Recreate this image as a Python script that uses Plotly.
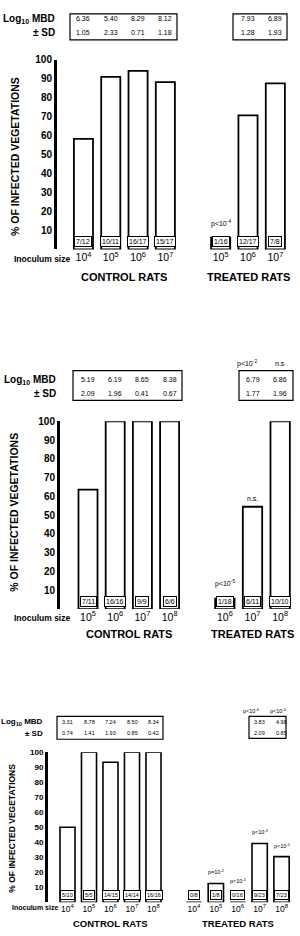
import plotly.graph_objects as go

# ---------------- DATA ----------------
# Panel 1
p1_ctrl_inoc = ["10<sup>4</sup>", "10<sup>5</sup>", "10<sup>6</sup>", "10<sup>7</sup>"]
p1_ctrl_pct = [58.3, 90.9, 94.1, 88.2]
p1_ctrl_frac = ["7/12", "10/11", "16/17", "15/17"]
p1_ctrl_mbd = ["6.36", "5.40", "8.29", "8.12"]
p1_ctrl_sd = ["1.05", "2.33", "0.71", "1.18"]
p1_trt_inoc = ["10<sup>5</sup>", "10<sup>6</sup>", "10<sup>7</sup>"]
p1_trt_pct = [6.25, 70.6, 87.5]
p1_trt_frac = ["1/16", "12/17", "7/8"]
p1_trt_mbd = ["", "7.93", "6.89"]
p1_trt_sd = ["", "1.28", "1.93"]
p1_trt_pbar = ["p<10<sup>-4</sup>", "", ""]
p1_trt_ptab = ["", "", ""]

# Panel 2
p2_ctrl_inoc = ["10<sup>5</sup>", "10<sup>6</sup>", "10<sup>7</sup>", "10<sup>8</sup>"]
p2_ctrl_pct = [63.6, 100, 100, 100]
p2_ctrl_frac = ["7/11", "16/16", "9/9", "6/6"]
p2_ctrl_mbd = ["5.19", "6.19", "8.65", "8.38"]
p2_ctrl_sd = ["2.09", "1.96", "0.41", "0.67"]
p2_trt_inoc = ["10<sup>6</sup>", "10<sup>7</sup>", "10<sup>8</sup>"]
p2_trt_pct = [5.6, 54.5, 100]
p2_trt_frac = ["1/18", "6/11", "10/10"]
p2_trt_mbd = ["", "6.79", "6.86"]
p2_trt_sd = ["", "1.77", "1.96"]
p2_trt_pbar = ["p<10<sup>-5</sup>", "n.s.", ""]
p2_trt_ptab = ["", "p<10<sup>-2</sup>", "n.s"]

# Panel 3
p3_ctrl_inoc = ["10<sup>4</sup>", "10<sup>5</sup>", "10<sup>6</sup>", "10<sup>7</sup>", "10<sup>8</sup>"]
p3_ctrl_pct = [50, 100, 93.3, 100, 100]
p3_ctrl_frac = ["5/10", "5/5", "14/15", "14/14", "16/16"]
p3_ctrl_mbd = ["3.31", "8.78", "7.24", "8.50", "8.34"]
p3_ctrl_sd = ["0.74", "1.41", "1.93", "0.85", "0.42"]
p3_trt_inoc = ["10<sup>4</sup>", "10<sup>5</sup>", "10<sup>6</sup>", "10<sup>7</sup>", "10<sup>8</sup>"]
p3_trt_pct = [0, 12.5, 0, 39.1, 30.4]
p3_trt_frac = ["0/8", "1/8", "0/16", "9/23", "7/23"]
p3_trt_mbd = ["", "", "", "3.83", "4.98"]
p3_trt_sd = ["", "", "", "2.09", "0.85"]
p3_trt_pbar = ["", "p=10<sup>-2</sup>", "p<10<sup>-5</sup>", "p<10<sup>-3</sup>", "p<10<sup>-5</sup>"]
p3_trt_ptab = ["", "", "", "p<10<sup>-6</sup>", "p<10<sup>-4</sup>"]

y_ticks = [10, 20, 30, 40, 50, 60, 70, 80, 90, 100]

# ---------------- LAYOUT HELPERS ----------------
W, H = 300, 936
FONT = "Liberation Sans"


def px(x):
    return x / W


def py(y):
    return 1 - y / H


fig = go.Figure()
annotations = []
shapes = []

panels = [
    dict(ctrl=(p1_ctrl_inoc, p1_ctrl_pct, p1_ctrl_frac, p1_ctrl_mbd, p1_ctrl_sd),
         trt=(p1_trt_inoc, p1_trt_pct, p1_trt_frac, p1_trt_mbd, p1_trt_sd, p1_trt_pbar, p1_trt_ptab),
         ydom=(245, 54), xc=(69.8, 179), xt=(207, 289), yax=55,
         box_c=(70, 177, 8, 34), box_t=(233, 287, 8, 34), row1=13, row2=27, ptab=None,
         logx=57, inoc=(12, 255, 8.5), rats=273, title=(15, 152, 10.5),
         tick=10, inoc_font=10.5, val_font=7, frac_font=7, lw=1.8,
         pshift=[8, 0, 0], head_font=10, rats_font=11, p_font=7, ptab_shift=[0, 0, 0]),
    dict(ctrl=(p2_ctrl_inoc, p2_ctrl_pct, p2_ctrl_frac, p2_ctrl_mbd, p2_ctrl_sd),
         trt=(p2_trt_inoc, p2_trt_pct, p2_trt_frac, p2_trt_mbd, p2_trt_sd, p2_trt_pbar, p2_trt_ptab),
         ydom=(607, 418), xc=(74.4, 183.2), xt=(211, 294), yax=58,
         box_c=(73, 182, 367, 397), box_t=(239, 293, 367, 397), row1=376, row2=390, ptab=360,
         logx=58, inoc=(12, 616, 8.5), rats=632, title=(14, 510, 10.5),
         tick=10, inoc_font=10.5, val_font=7, frac_font=7, lw=1.8,
         pshift=[9, 3, 0], head_font=10, rats_font=11, p_font=7, ptab_shift=[0, -6, 0]),
    dict(ctrl=(p3_ctrl_inoc, p3_ctrl_pct, p3_ctrl_frac, p3_ctrl_mbd, p3_ctrl_sd),
         trt=(p3_trt_inoc, p3_trt_pct, p3_trt_frac, p3_trt_mbd, p3_trt_sd, p3_trt_pbar, p3_trt_ptab),
         ydom=(902, 751), xc=(56.75, 164.25), xt=(183, 292.5), yax=46,
         box_c=(57, 163, 715, 738), box_t=(249, 286, 715, 737), row1=721, row2=732, ptab=710,
         logx=45, inoc=(10, 907, 7), rats=923, title=(12, 828, 8.5),
         tick=8, inoc_font=8.5, val_font=5.5, frac_font=5.5, lw=1.6,
         pshift=[0, 6, 16, 7, 6], head_font=8, rats_font=9.5, p_font=5.5, ptab_shift=[0, 0, 0, -9, -3]),
]

layout_axes = {}
for i, P in enumerate(panels):
    yname = "y" if i == 0 else f"y{i + 1}"
    yid = "yaxis" if i == 0 else f"yaxis{i + 1}"
    xc_n = 2 * i + 1
    xt_n = 2 * i + 2
    xc_name = "x" if xc_n == 1 else f"x{xc_n}"
    xt_name = f"x{xt_n}"
    xc_id = "xaxis" if xc_n == 1 else f"xaxis{xc_n}"
    xt_id = f"xaxis{xt_n}"

    c_inoc, c_pct, c_frac, c_mbd, c_sd = P["ctrl"]
    t_inoc, t_pct, t_frac, t_mbd, t_sd, t_pbar, t_ptab = P["trt"]
    c_cats = [f"c{k}" for k in range(len(c_inoc))]
    t_cats = [f"t{k}" for k in range(len(t_inoc))]

    bar_style = dict(marker=dict(color="white", line=dict(color="black", width=P["lw"])),
                     showlegend=False, hoverinfo="skip")
    fig.add_trace(go.Bar(x=c_cats, y=c_pct, xaxis=xc_name, yaxis=yname, **bar_style))
    fig.add_trace(go.Bar(x=t_cats, y=t_pct, xaxis=xt_name, yaxis=yname, **bar_style))

    y0, y1 = P["ydom"]
    layout_axes[yid] = dict(domain=[py(y0), py(y1)], range=[0, 100], anchor="free",
                            position=px(P["yax"]), showline=True, linecolor="black",
                            linewidth=3, tickvals=y_ticks, ticks="", showgrid=False,
                            zeroline=False, fixedrange=True,
                            tickfont=dict(family=FONT, size=P["tick"], color="black", weight="bold"))
    for xid, dom, cats, labels in ((xc_id, P["xc"], c_cats, c_inoc), (xt_id, P["xt"], t_cats, t_inoc)):
        layout_axes[xid] = dict(domain=[px(dom[0]), px(dom[1])], anchor=yname,
                                type="category", categoryorder="array", categoryarray=cats,
                                tickvals=cats, ticktext=labels, showline=False, ticks="",
                                showgrid=False, zeroline=False, fixedrange=True,
                                tickfont=dict(family=FONT, size=P["inoc_font"], color="black"))

    # fraction labels inside bars
    for cats, fr, xn in ((c_cats, c_frac, xc_name), (t_cats, t_frac, xt_name)):
        for c, f in zip(cats, fr):
            annotations.append(dict(x=c, y=0, xref=xn, yref=yname, text=f, showarrow=False,
                                    yanchor="bottom", yshift=2,
                                    bordercolor="black", borderwidth=1, borderpad=1,
                                    bgcolor="white",
                                    font=dict(family=FONT, size=P["frac_font"], color="black")))
    # p labels over bars
    for c, v, ptxt, sh in zip(t_cats, t_pct, t_pbar, P["pshift"]):
        if ptxt:
            annotations.append(dict(x=c, y=v, xref=xt_name, yref=yname, text=ptxt,
                                    showarrow=False, yanchor="bottom", yshift=sh,
                                    font=dict(family=FONT, size=P["p_font"], color="black")))
    # MBD table
    for cats, mbd, sd, xn in ((c_cats, c_mbd, c_sd, xc_name), (t_cats, t_mbd, t_sd, xt_name)):
        for c, m, s in zip(cats, mbd, sd):
            if m:
                annotations.append(dict(x=c, y=py(P["row1"]), xref=xn, yref="paper", text=m,
                                        showarrow=False, yanchor="middle",
                                        font=dict(family=FONT, size=P["val_font"], color="black")))
                annotations.append(dict(x=c, y=py(P["row2"]), xref=xn, yref="paper", text=s,
                                        showarrow=False, yanchor="middle",
                                        font=dict(family=FONT, size=P["val_font"], color="black")))
    if P["ptab"] is not None:
        for c, ptxt, xs in zip(t_cats, t_ptab, P["ptab_shift"]):
            if ptxt:
                annotations.append(dict(x=c, y=py(P["ptab"]), xref=xt_name, yref="paper",
                                        text=ptxt, showarrow=False, yanchor="middle", xshift=xs,
                                        font=dict(family=FONT, size=P["p_font"], color="black")))
    for bx in (P["box_c"], P["box_t"]):
        shapes.append(dict(type="rect", xref="paper", yref="paper",
                           x0=px(bx[0]), x1=px(bx[1]), y0=py(bx[2]), y1=py(bx[3]),
                           line=dict(color="black", width=1.2)))
    # headers
    annotations.append(dict(x=px(P["logx"]), y=py(P["row1"]), xref="paper", yref="paper",
                            text="<b>Log<sub>10</sub> MBD</b>", showarrow=False,
                            xanchor="right", yanchor="middle",
                            font=dict(family=FONT, size=P["head_font"], color="black")))
    annotations.append(dict(x=px(P["logx"]), y=py(P["row2"]), xref="paper", yref="paper",
                            text="<b>± SD</b>", showarrow=False, xanchor="right", yanchor="middle",
                            font=dict(family=FONT, size=P["head_font"], color="black")))
    ix, iy, isz = P["inoc"]
    annotations.append(dict(x=px(ix), y=py(iy), xref="paper", yref="paper",
                            text="<b>Inoculum size</b>", showarrow=False, xanchor="left",
                            yanchor="middle", font=dict(family=FONT, size=isz, color="black")))
    annotations.append(dict(x=0.5, y=py(P["rats"]), xref=f"{xc_name} domain", yref="paper",
                            text="<b>CONTROL RATS</b>", showarrow=False, yanchor="middle",
                            font=dict(family=FONT, size=P["rats_font"], color="black")))
    annotations.append(dict(x=0.5, y=py(P["rats"]), xref=f"{xt_name} domain", yref="paper",
                            text="<b>TREATED RATS</b>", showarrow=False, yanchor="middle",
                            font=dict(family=FONT, size=P["rats_font"], color="black")))
    tx, ty, tsz = P["title"]
    annotations.append(dict(x=px(tx), y=py(ty), xref="paper", yref="paper",
                            text="<b>% OF INFECTED VEGETATIONS</b>", showarrow=False,
                            textangle=-90, xanchor="center", yanchor="middle",
                            font=dict(family=FONT, size=tsz, color="black")))

fig.update_layout(width=W, height=H, margin=dict(l=0, r=0, t=0, b=0),
                  paper_bgcolor="white", plot_bgcolor="white", bargap=0.3,
                  annotations=annotations, shapes=shapes, showlegend=False,
                  **layout_axes)

fig.write_html("out.html", config={"displayModeBar": False})
